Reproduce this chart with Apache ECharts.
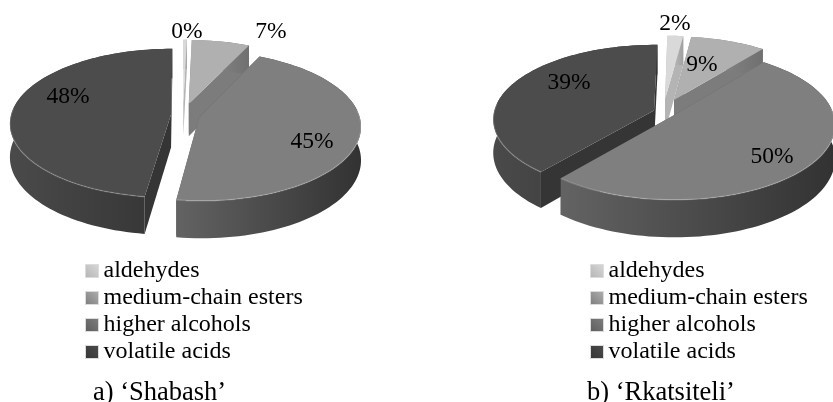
<!DOCTYPE html>
<html>
<head>
<meta charset="utf-8">
<style>html,body{margin:0;padding:0;background:#fff}#chart{width:833px;height:402px}</style>
<script src="https://cdn.jsdelivr.net/npm/echarts@6/dist/echarts.min.js"></script>
</head>
<body>
<div id="chart"></div>
<script>
// Aroma compound groups, share of the total in percent
const categories = ['aldehydes', 'medium-chain esters', 'higher alcohols', 'volatile acids'];
const shabashValues = [0.4, 6.6, 45.2, 47.8];
const rkatsiteliValues = [1.8, 8.6, 50.4, 39.2];
const captions = ['a) ‘Shabash’', 'b) ‘Rkatsiteli’'];

// Slice shades: top face, cut face, outer wall from left to right
const topColors = ['#d9d9d9', '#b0b0b0', '#7f7f7f', '#4c4c4c'];
const cutColors = ['#b4b4b4', '#7c7c7c', '#5c5c5c', '#353535'];
const wallStops = [['#c8c8c8', '#a0a0a0'], ['#909090', '#707070'], ['#636363', '#323232'], ['#4a4a4a', '#343434']];

const FONT = '"Liberation Serif","Times New Roman",serif';

// Projection and slice offsets of each pie; values stay in the arrays above
const pies = [
  { values: shabashValues, cx: 183, cy: 115, A: 160, B: 73.5, k: 0.115, H: 33, rotate: 0,
    explode: [0.16, 0.16, 0.105, 0.075],
    labels: [[187, 32], [271, 32], [312, 142], [68, 97]] },
  { values: rkatsiteliValues, cx: 663, cy: 112, A: 160, B: 73.5, k: 0.115, H: 33, rotate: 1,
    explode: [0.18, 0.18, 0.08, 0.06],
    labels: [[675, 24], [702, 65], [772, 157], [569, 83]] }
];

function sliceShapes(pie, index) {
  const total = pie.values.reduce((a, b) => a + b, 0);
  const before = pie.values.slice(0, index).reduce((a, b) => a + b, 0);
  const rad = Math.PI / 180;
  const t0 = (before / total * 360 + pie.rotate) * rad;
  const t1 = ((before + pie.values[index]) / total * 360 + pie.rotate) * rad;
  const mid = (t0 + t1) / 2;
  const d = pie.explode[index];
  const ox = d * Math.sin(mid), oy = d * Math.cos(mid);

  // r: distance from the slice tip, t: clockwise angle from the back, h: 0 on top, 1 at the base
  const project = (r, t, h) => {
    const u = ox + r * Math.sin(t), v = oy + r * Math.cos(t);
    const w = 1 + pie.k * v;
    return [pie.cx + pie.A * u / w, pie.cy + (-pie.B * v + pie.H * h) / w];
  };

  const steps = Math.max(4, Math.ceil((t1 - t0) / (2 * rad)));
  const arc = h => {
    const pts = [];
    for (let i = 0; i <= steps; i++) pts.push(project(1, t0 + (t1 - t0) * i / steps, h));
    return pts;
  };
  const topArc = arc(0), baseArc = arc(1);
  const tipTop = project(0, 0, 0), tipBase = project(0, 0, 1);
  const grad = new echarts.graphic.LinearGradient(0, 0, 1, 0, [
    { offset: 0, color: wallStops[index][0] },
    { offset: 1, color: wallStops[index][1] }
  ]);
  const rim = topArc.filter((_, i) => Math.cos(t0 + (t1 - t0) * i / steps) < 0.1);
  const children = [
    { type: 'polygon', z2: 1, shape: { points: [tipTop, topArc[steps], baseArc[steps], tipBase] }, style: { fill: cutColors[index] } },
    { type: 'polygon', z2: 1, shape: { points: [tipTop, topArc[0], baseArc[0], tipBase] }, style: { fill: cutColors[index] } },
    { type: 'polygon', z2: 2, shape: { points: topArc.concat(baseArc.slice().reverse()) }, style: { fill: grad } },
    { type: 'polygon', z2: 3, shape: { points: [tipTop].concat(topArc) }, style: { fill: topColors[index] } }
  ];
  if (rim.length > 1) {
    children.push({ type: 'polyline', z2: 4, shape: { points: rim },
      style: { fill: null, stroke: 'rgba(255,255,255,0.18)', lineWidth: 1.5 } });
  }
  return children;
}

const series = [];
pies.forEach(pie => {
  pie.values.forEach((value, i) => {
    series.push({
      type: 'custom',
      name: categories[i],
      coordinateSystem: 'none',
      silent: true,
      animation: false,
      clip: false,
      itemStyle: { color: topColors[i] },
      data: [[value]],
      renderItem: (params, api) => ({
        type: 'group',
        children: sliceShapes(pie, i).concat([{
          type: 'text', z2: 20,
          style: {
            text: Math.round(api.value(0)) + '%',
            x: pie.labels[i][0], y: pie.labels[i][1],
            font: '23.5px ' + FONT, fill: '#000',
            align: 'center', verticalAlign: 'middle'
          }
        }])
      })
    });
  });
});

const legendData = categories.map((name, i) => ({
  name, icon: 'rect',
  itemStyle: {
    color: new echarts.graphic.LinearGradient(0, 1, 1, 0, [
      { offset: 0, color: cutColors[i] },
      { offset: 1, color: topColors[i] }
    ]),
    borderColor: '#dcdcdc', borderWidth: 1
  }
}));

const makeLegend = left => ({
  orient: 'vertical', left, top: 259, padding: 0,
  itemWidth: 13, itemHeight: 13, itemGap: 3, selectedMode: false,
  textStyle: { fontFamily: FONT, fontSize: 24, color: '#000' },
  data: legendData
});

const chart = echarts.init(document.getElementById('chart'), null, { renderer: 'canvas' });
chart.setOption({
  backgroundColor: '#fff',
  animation: false,
  title: captions.map((text, i) => ({
    text, left: i ? 587 : 93, top: 380, padding: 0,
    textStyle: { fontFamily: FONT, fontSize: 26.5, fontWeight: 'normal', color: '#000' }
  })),
  legend: [makeLegend(85), makeLegend(590)],
  series
});
</script>
</body>
</html>
